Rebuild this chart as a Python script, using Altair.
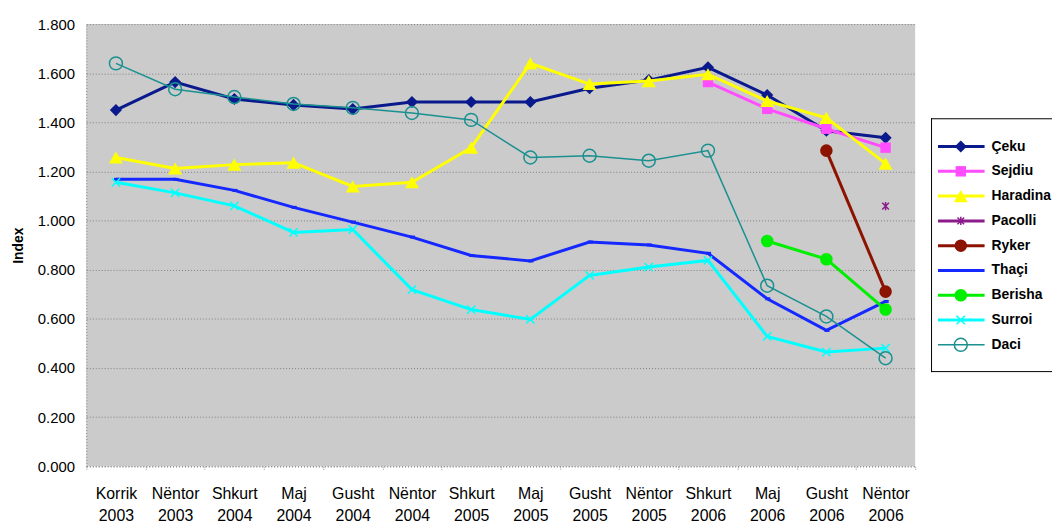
import altair as alt
import pandas as pd

periods = ["Korrik 2003", "Nëntor 2003", "Shkurt 2004", "Maj 2004", "Gusht 2004",
           "Nëntor 2004", "Shkurt 2005", "Maj 2005", "Gusht 2005", "Nëntor 2005",
           "Shkurt 2006", "Maj 2006", "Gusht 2006", "Nëntor 2006"]
N = None
ceku = [1.450, 1.564, 1.495, 1.471, 1.454, 1.483, 1.483, 1.483, 1.539, 1.572, 1.624, 1.511, 1.366, 1.337]
sejdiu = [N, N, N, N, N, N, N, N, N, N, 1.564, 1.455, 1.374, 1.297]
haradina = [1.257, 1.212, 1.228, 1.236, 1.139, 1.156, 1.297, 1.640, 1.556, 1.568, 1.596, 1.487, 1.418, 1.232]
pacolli = [N, N, N, N, N, N, N, N, N, N, N, N, N, 1.059]
ryker = [N, N, N, N, N, N, N, N, N, N, N, N, 1.285, 0.711]
thaci = [1.168, 1.168, 1.123, 1.054, 0.994, 0.933, 0.858, 0.836, 0.913, 0.901, 0.867, 0.682, 0.553, 0.671]
berisha = [N, N, N, N, N, N, N, N, N, N, N, 0.917, 0.843, 0.638]
surroi = [1.156, 1.113, 1.060, 0.952, 0.964, 0.719, 0.638, 0.598, 0.777, 0.811, 0.838, 0.529, 0.465, 0.481]
daci = [1.640, 1.535, 1.503, 1.475, 1.459, 1.438, 1.410, 1.257, 1.264, 1.244, 1.285, 0.735, 0.610, 0.440]

names = ["Çeku", "Sejdiu", "Haradina", "Pacolli", "Ryker", "Thaçi", "Berisha", "Surroi", "Daci"]
series_values = [ceku, sejdiu, haradina, pacolli, ryker, thaci, berisha, surroi, daci]
y_ticks = [0.0, 0.2, 0.4, 0.6, 0.8, 1.0, 1.2, 1.4, 1.6, 1.8]

ASTER = "M0,-1L0,1M-0.8,-0.8L0.8,0.8M-0.8,0.8L0.8,-0.8"
XMARK = "M-1,-1L1,1M-1,1L1,-1"
DASH = "M-0.6,0L1,0"
# color, shape, filled, size, line width, marker stroke width
styles = {
    "Çeku": ("#0A1A8C", "diamond", True, 150, 3, 1),
    "Sejdiu": ("#FF4DFF", "square", True, 110, 3, 1),
    "Haradina": ("#FFFF00", "triangle-up", True, 200, 3, 1),
    "Pacolli": ("#8B1A8B", ASTER, False, 70, 3, 1.5),
    "Ryker": ("#8B1300", "circle", True, 160, 3, 1),
    "Thaçi": ("#1428FF", DASH, False, 40, 3, 3),
    "Berisha": ("#00EE00", "circle", True, 160, 3, 1),
    "Surroi": ("#00FFFF", XMARK, False, 70, 3, 1.5),
    "Daci": ("#1A9090", "circle", False, 170, 1.5, 1.5),
}

rows = []
for name, vals in zip(names, series_values):
    for p, v in zip(periods, vals):
        if v is not None:
            rows.append({"series": name, "period": p, "value": v})
df = pd.DataFrame(rows)

FONT = "Liberation Sans"

x_enc = alt.X("period:N", sort=periods,
              scale=alt.Scale(type="band", domain=periods, paddingInner=0, paddingOuter=0),
              axis=alt.Axis(title=None, labelExpr="split(datum.label, ' ')", labelAngle=0,
                            labelFontSize=16, labelFont=FONT, labelColor="black",
                            labelPadding=16, labelLineHeight=23, tickBand="extent",
                            tickSize=3, tickColor="#999999", tickDash=[1, 1], grid=False,
                            domainDash=[1, 2], domainColor="#808080"))
y_enc = alt.Y("value:Q", scale=alt.Scale(domain=[0, 1.8], nice=False, zero=True),
              axis=alt.Axis(values=y_ticks, format=".3f", title="Index",
                            titleFontWeight="bold", titleFontSize=14, titleFont=FONT,
                            labelFontSize=15, labelFont=FONT, labelColor="black",
                            labelPadding=12, ticks=False, grid=True,
                            gridDash=[1, 2], gridColor="#808080",
                            domainDash=[1, 2], domainColor="#808080", titlePadding=12))

layers = []
for name in names:
    color, shape, filled, size, lw, mw = styles[name]
    sub = alt.Chart(df).transform_filter(alt.datum.series == name)
    layers.append(sub.mark_line(color=color, strokeWidth=lw).encode(x=x_enc, y=y_enc))
    if filled:
        pt = sub.mark_point(shape=shape, filled=True, fill=color, color=color, size=size, opacity=1)
    else:
        pt = sub.mark_point(shape=shape, filled=False, color=color, stroke=color, size=size,
                            strokeWidth=mw, opacity=1)
    layers.append(pt.encode(x=x_enc, y=y_enc))

main = alt.layer(*layers).properties(width=836, height=446,
                                     view=alt.ViewBackground(fill="#CBCBCB", stroke=None))

# ---- legend panel ----
LEG_W = 122
leg_df = pd.DataFrame({"series": names})
ly = alt.Y("series:N", sort=names,
           scale=alt.Scale(type="point", domain=names, range=[111, 336]), axis=None)

one = pd.DataFrame({"a": [0]})
box = alt.Chart(one).mark_rect(fill="white", stroke=None).encode(
    x=alt.value(0), x2=alt.value(LEG_W), y=alt.value(95), y2=alt.value(351))
border_top = alt.Chart(one).mark_rule(color="black", strokeWidth=1).encode(
    x=alt.value(0), x2=alt.value(LEG_W), y=alt.value(95.5))
border_bottom = alt.Chart(one).mark_rule(color="black", strokeWidth=1).encode(
    x=alt.value(0), x2=alt.value(LEG_W), y=alt.value(350.5))
border_left = alt.Chart(one).mark_rule(color="black", strokeWidth=1).encode(
    x=alt.value(0.5), y=alt.value(95), y2=alt.value(351))

leg_layers = [box, border_top, border_bottom, border_left]
for name in names:
    color, shape, filled, size, lw, mw = styles[name]
    sub = alt.Chart(leg_df).transform_filter(alt.datum.series == name)
    leg_layers.append(sub.mark_rule(color=color, strokeWidth=lw).encode(
        x=alt.value(7), x2=alt.value(54), y=ly))
    if filled:
        pt = sub.mark_point(shape=shape, filled=True, fill=color, color=color, size=size, opacity=1)
    else:
        pt = sub.mark_point(shape=shape, filled=False, color=color, stroke=color, size=size,
                            strokeWidth=mw, opacity=1)
    leg_layers.append(pt.encode(x=alt.value(30), y=ly))
leg_layers.append(alt.Chart(leg_df).mark_text(
    align="left", baseline="middle", fontWeight="bold", fontSize=14, font=FONT, color="black"
).encode(x=alt.value(61), y=ly, text="series:N"))

legend = alt.layer(*leg_layers).properties(width=LEG_W, height=446,
                                           view=alt.ViewBackground(stroke=None))

chart = alt.hconcat(main, legend, spacing=16, bounds="flush").properties(
    padding={"left": 3, "top": 7, "right": 0, "bottom": 0}
).configure_view(stroke=None)

chart.save("out.html", embed_options={"renderer": "svg", "actions": False})
